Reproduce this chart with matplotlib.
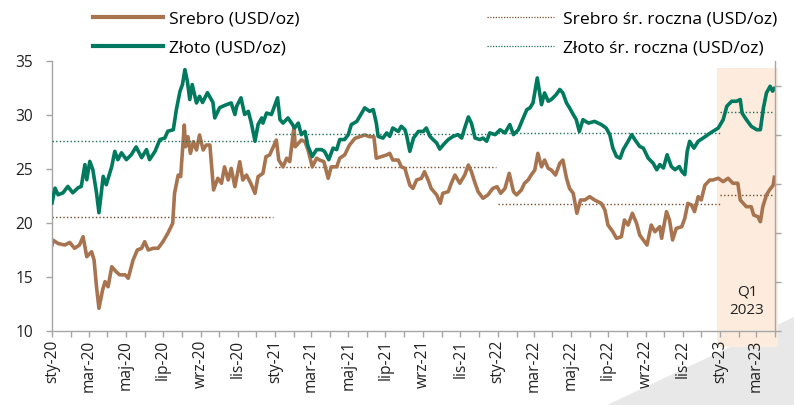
import matplotlib
matplotlib.use("Agg")
import matplotlib.pyplot as plt
import matplotlib.dates as mdates
from matplotlib.patches import Rectangle, Polygon
from matplotlib.lines import Line2D
import pandas as pd

plt.rcParams['font.family'] = ['Open Sans', 'DejaVu Sans']

# --- data ---
gold_dates = [
    "2020-01-01", "2020-01-06", "2020-01-11", "2020-01-19", "2020-01-27", "2020-02-04", "2020-02-13", "2020-02-18",
    "2020-02-24", "2020-02-27", "2020-03-03", "2020-03-08", "2020-03-14", "2020-03-18", "2020-03-25", "2020-03-30",
    "2020-04-08", "2020-04-13", "2020-04-18", "2020-04-24", "2020-05-02", "2020-05-10", "2020-05-18", "2020-05-27",
    "2020-06-04", "2020-06-09", "2020-06-18", "2020-06-26", "2020-07-04", "2020-07-09", "2020-07-18", "2020-07-23",
    "2020-07-29", "2020-08-02", "2020-08-06", "2020-08-10", "2020-08-14", "2020-08-18", "2020-08-25", "2020-08-30",
    "2020-09-04", "2020-09-12", "2020-09-21", "2020-09-24", "2020-10-02", "2020-10-13", "2020-10-21", "2020-10-27",
    "2020-10-30", "2020-11-06", "2020-11-12", "2020-11-18", "2020-11-23", "2020-11-29", "2020-12-04", "2020-12-10",
    "2020-12-12", "2020-12-18", "2020-12-26", "2020-12-31",
    "2021-01-05", "2021-01-09", "2021-01-14", "2021-01-22", "2021-01-28", "2021-02-02", "2021-02-08", "2021-02-13",
    "2021-02-19", "2021-02-24", "2021-03-03", "2021-03-10", "2021-03-18", "2021-03-23", "2021-03-30", "2021-04-06",
    "2021-04-12", "2021-04-17", "2021-04-25", "2021-05-01", "2021-05-06", "2021-05-15", "2021-05-23", "2021-05-28",
    "2021-06-05", "2021-06-11", "2021-06-16", "2021-06-19", "2021-06-27", "2021-07-03", "2021-07-08", "2021-07-13",
    "2021-07-22", "2021-07-27", "2021-08-02", "2021-08-05", "2021-08-10", "2021-08-16", "2021-08-24", "2021-09-01",
    "2021-09-06", "2021-09-12", "2021-09-17", "2021-09-23", "2021-09-28", "2021-10-04", "2021-10-12", "2021-10-20",
    "2021-10-28", "2021-11-03", "2021-11-08", "2021-11-14", "2021-11-19", "2021-11-25", "2021-12-03", "2021-12-08",
    "2021-12-14", "2021-12-19", "2021-12-28",
    "2022-01-05", "2022-01-13", "2022-01-21", "2022-01-27", "2022-02-04", "2022-02-12", "2022-02-18", "2022-02-23",
    "2022-02-28", "2022-03-07", "2022-03-14", "2022-03-19", "2022-03-25", "2022-03-30", "2022-04-07", "2022-04-13",
    "2022-04-18", "2022-04-24", "2022-04-29", "2022-05-05", "2022-05-10", "2022-05-15", "2022-05-21", "2022-05-30",
    "2022-06-09", "2022-06-20", "2022-06-28", "2022-07-04", "2022-07-09", "2022-07-15", "2022-07-21", "2022-07-26",
    "2022-08-03", "2022-08-09", "2022-08-14", "2022-08-22", "2022-08-28", "2022-09-05", "2022-09-13", "2022-09-19",
    "2022-09-24", "2022-09-30", "2022-10-06", "2022-10-13", "2022-10-19", "2022-10-26", "2022-10-30", "2022-11-04",
    "2022-11-08", "2022-11-12", "2022-11-19", "2022-11-26", "2022-12-04", "2022-12-12", "2022-12-20", "2022-12-29",
    "2023-01-06", "2023-01-12", "2023-01-20", "2023-01-28", "2023-02-03", "2023-02-06", "2023-02-13", "2023-02-21",
    "2023-03-02", "2023-03-08", "2023-03-13", "2023-03-18", "2023-03-24", "2023-03-28", "2023-03-31",
]
gold_usd = [
    1522, 1582, 1555, 1563, 1589, 1563, 1584, 1589, 1678, 1616, 1691, 1657, 1563, 1482, 1630, 1596,
    1670, 1732, 1698, 1726, 1698, 1718, 1750, 1706, 1739, 1698, 1732, 1780, 1786, 1814, 1820, 1902,
    1977, 2004, 2065, 2018, 1943, 2004, 1929, 1956, 1931, 1971, 1931, 1868, 1910, 1922, 1929, 1882,
    1916, 1950, 1882, 1895, 1847, 1773, 1841, 1868, 1847, 1888, 1882, 1916,
    1950, 1861, 1847, 1868, 1847, 1827, 1847, 1800, 1813, 1752, 1711, 1739, 1739, 1732, 1698, 1745,
    1739, 1780, 1780, 1800, 1841, 1854, 1888, 1909, 1895, 1902, 1847, 1793, 1786, 1807, 1793, 1827,
    1813, 1834, 1820, 1793, 1732, 1786, 1813, 1813, 1827, 1793, 1780, 1766, 1741, 1759, 1780, 1793,
    1800, 1786, 1827, 1872, 1847, 1786, 1780, 1786, 1773, 1807, 1800,
    1820, 1807, 1841, 1800, 1820, 1868, 1902, 1909, 1929, 2031, 1922, 1970, 1936, 1943, 1963, 1984,
    1970, 1929, 1909, 1882, 1861, 1813, 1861, 1847, 1854, 1841, 1827, 1800, 1745, 1711, 1704, 1739,
    1773, 1800, 1780, 1752, 1745, 1704, 1684, 1657, 1678, 1664, 1718, 1670, 1657, 1670, 1650, 1637,
    1732, 1773, 1745, 1773, 1786, 1800, 1813, 1827,
    1861, 1916, 1936, 1936, 1943, 1888, 1861, 1834, 1820, 1820, 1909, 1970, 1997, 1977, 1988,
]

silver_dates = [
    "2020-01-01", "2020-01-03", "2020-01-11", "2020-01-22", "2020-01-30", "2020-02-07", "2020-02-15", "2020-02-21",
    "2020-02-27", "2020-03-06", "2020-03-10", "2020-03-14", "2020-03-18", "2020-03-24", "2020-03-28", "2020-04-02",
    "2020-04-08", "2020-04-15", "2020-04-21", "2020-04-30", "2020-05-05", "2020-05-13", "2020-05-20", "2020-05-27",
    "2020-06-01", "2020-06-07", "2020-06-15", "2020-06-23", "2020-07-01", "2020-07-09", "2020-07-17", "2020-07-20",
    "2020-07-26", "2020-07-30", "2020-08-05", "2020-08-07", "2020-08-11", "2020-08-15", "2020-08-20", "2020-08-25",
    "2020-08-30", "2020-09-05", "2020-09-10", "2020-09-16", "2020-09-22", "2020-09-29", "2020-10-05", "2020-10-10",
    "2020-10-16", "2020-10-21", "2020-10-27", "2020-11-04", "2020-11-09", "2020-11-15", "2020-11-22", "2020-11-29",
    "2020-12-04", "2020-12-12", "2020-12-17", "2020-12-23", "2020-12-29",
    "2021-01-03", "2021-01-07", "2021-01-14", "2021-01-20", "2021-01-25", "2021-02-01", "2021-02-03", "2021-02-08",
    "2021-02-13", "2021-02-19", "2021-02-24", "2021-03-03", "2021-03-10", "2021-03-15", "2021-03-22", "2021-03-29",
    "2021-04-03", "2021-04-12", "2021-04-17", "2021-04-25", "2021-05-03", "2021-05-12", "2021-05-20", "2021-05-28",
    "2021-06-05", "2021-06-12", "2021-06-16", "2021-06-24", "2021-07-03", "2021-07-08", "2021-07-13", "2021-07-22",
    "2021-07-27", "2021-08-02", "2021-08-05", "2021-08-10", "2021-08-15", "2021-08-21", "2021-08-29", "2021-09-03",
    "2021-09-09", "2021-09-14", "2021-09-23", "2021-09-29", "2021-10-03", "2021-10-12", "2021-10-17", "2021-10-23",
    "2021-10-31", "2021-11-08", "2021-11-14", "2021-11-19", "2021-11-25", "2021-11-30", "2021-12-08", "2021-12-16",
    "2021-12-24", "2021-12-31",
    "2022-01-06", "2022-01-13", "2022-01-20", "2022-01-27", "2022-02-01", "2022-02-09", "2022-02-14", "2022-02-20",
    "2022-02-25", "2022-03-03", "2022-03-08", "2022-03-14", "2022-03-19", "2022-03-25", "2022-03-30", "2022-04-06",
    "2022-04-13", "2022-04-18", "2022-04-24", "2022-04-29", "2022-05-05", "2022-05-11", "2022-05-17", "2022-05-24",
    "2022-06-01", "2022-06-09", "2022-06-20", "2022-06-26", "2022-07-01", "2022-07-09", "2022-07-15", "2022-07-23",
    "2022-07-28", "2022-08-03", "2022-08-10", "2022-08-17", "2022-08-22", "2022-08-30", "2022-09-03", "2022-09-10",
    "2022-09-16", "2022-09-24", "2022-09-27", "2022-10-05", "2022-10-10", "2022-10-15", "2022-10-21", "2022-10-30",
    "2022-11-04", "2022-11-09", "2022-11-15", "2022-11-20", "2022-11-26", "2022-12-01", "2022-12-07", "2022-12-15",
    "2022-12-20", "2022-12-29",
    "2023-01-06", "2023-01-14", "2023-01-22", "2023-01-30", "2023-02-03", "2023-02-13", "2023-02-21", "2023-02-25",
    "2023-03-04", "2023-03-08", "2023-03-12", "2023-03-18", "2023-03-23", "2023-03-29", "2023-03-31",
]
silver_usd = [
    17.96, 18.40, 18.10, 17.96, 18.20, 17.66, 17.96, 18.73, 16.88, 17.34, 16.57, 14.10, 12.10, 13.80, 14.57, 14.10,
    15.95, 15.50, 15.20, 15.20, 14.88, 16.57, 17.50, 17.66, 18.27, 17.50, 17.66, 17.66, 18.27, 19.05, 19.97, 22.75,
    24.44, 24.29, 29.07, 27.06, 27.99, 26.45, 27.53, 26.76, 28.15, 26.76, 27.22, 27.22, 23.06, 24.14, 23.68, 25.20,
    23.98, 25.06, 23.36, 25.68, 23.98, 24.44, 23.68, 22.75, 24.29, 24.60, 26.14, 26.30, 27.06,
    27.68, 25.83, 25.20, 26.00, 25.68, 28.92, 27.06, 27.37, 27.68, 27.53, 26.76, 25.20, 26.00, 25.83, 25.68, 24.14,
    25.20, 25.20, 26.00, 26.30, 27.22, 27.84, 27.99, 28.15, 27.99, 27.99, 26.00, 26.14, 26.30, 26.45, 25.83, 25.83,
    25.20, 25.06, 24.44, 23.50, 23.20, 23.98, 24.14, 24.75, 23.98, 23.20, 22.60, 21.82, 22.75, 22.90, 23.68, 24.44,
    23.68, 24.44, 25.37, 24.75, 23.68, 22.90, 22.29, 22.60, 23.20, 23.36,
    22.75, 23.20, 24.60, 22.90, 22.60, 23.06, 23.68, 23.98, 24.44, 24.91, 26.45, 25.20, 25.83, 25.06, 24.91, 24.44,
    25.53, 25.83, 24.14, 23.20, 22.75, 20.90, 22.13, 22.13, 22.44, 22.13, 21.82, 21.20, 19.81, 19.19, 18.58, 18.73,
    20.28, 19.81, 20.90, 19.97, 18.89, 18.27, 17.96, 19.81, 19.19, 19.66, 18.58, 21.05, 20.28, 18.43, 19.50, 19.66,
    20.43, 21.82, 21.67, 21.05, 22.44, 22.13, 23.50, 23.98, 23.98, 24.14,
    23.83, 24.14, 23.68, 23.68, 22.13, 21.51, 21.51, 20.74, 20.58, 20.12, 21.51, 22.60, 23.06, 23.50, 24.23,
]

# yearly averages (2023 = Q1)
avg_start = ["2020-01-01", "2021-01-01", "2022-01-01", "2023-01-01"]
avg_end = ["2020-12-29", "2021-12-29", "2022-12-31", "2023-03-31"]
silver_avg = [20.55, 25.20, 21.80, 22.60]
gold_avg = [1775, 1804, 1807, 1893]

pl_months = {1: "sty", 3: "mar", 5: "maj", 7: "lip", 9: "wrz", 11: "lis"}

c_silver = "#A8744F"
c_gold = "#007A5E"
c_silver_avg = "#7A4A2C"
c_gold_avg = "#1E6E55"
c_axis = "#A6A6A6"

fig = plt.figure(figsize=(7.94, 4.05), dpi=100)
ax = fig.add_axes([52 / 794, 74 / 405, 723 / 794, 270 / 405])
ax2 = ax.twinx()

# grey corner decoration
fig.patches.append(Polygon([[607 / 794, 0], [1, 0], [1, 88 / 405]], closed=True,
                           transform=fig.transFigure, facecolor="#E8E8E8", edgecolor="none", zorder=-5))

sd = pd.to_datetime(silver_dates)
gd = pd.to_datetime(gold_dates)

# Q1 2023 shading
x0 = mdates.date2num(pd.Timestamp("2022-12-27"))
x1 = mdates.date2num(pd.Timestamp("2023-04-06"))
ax.add_patch(Rectangle((x0, 8.5), x1 - x0, 34.35 - 8.5, facecolor="#FDECDD", edgecolor="none",
                       clip_on=False, zorder=0.2))
ax.text(pd.Timestamp("2023-02-14"), 12.75, "Q1\n2023", ha="center", va="center", fontsize=11,
        color="#222222", linespacing=1.25, zorder=3)

for s, e, v in zip(avg_start, avg_end, silver_avg):
    ax.plot(pd.to_datetime([s, e]), [v, v], color=c_silver_avg, lw=1.0, ls=(0, (1, 1.6)), zorder=1)
for s, e, v in zip(avg_start, avg_end, gold_avg):
    ax2.plot(pd.to_datetime([s, e]), [v, v], color=c_gold_avg, lw=1.0, ls=(0, (1, 1.6)), zorder=1)

ax.plot(sd, silver_usd, color=c_silver, lw=2.6, solid_joinstyle="round", zorder=2)
ax2.plot(gd, gold_usd, color=c_gold, lw=2.6, solid_joinstyle="round", zorder=2)

ax.set_xlim(pd.Timestamp("2020-01-01"), pd.Timestamp("2023-04-01"))
ax.set_ylim(10, 35)
ax.set_yticks([10, 15, 20, 25, 30, 35])
ax2.set_ylim(1000, 2100)
ax2.set_yticks([1000, 1200, 1400, 1600, 1800, 2000])
ax2.set_yticklabels([])

ax.xaxis.set_major_locator(mdates.MonthLocator(bymonth=[1, 3, 5, 7, 9, 11]))
ax.xaxis.set_minor_locator(mdates.MonthLocator())
ax.xaxis.set_major_formatter(plt.FuncFormatter(
    lambda x, pos: "%s-%02d" % (pl_months[mdates.num2date(x).month], mdates.num2date(x).year % 100)))
for lab in ax.get_xticklabels():
    lab.set_rotation(90)

for a in (ax, ax2):
    a.spines["top"].set_visible(False)
    for side in ("left", "bottom", "right"):
        a.spines[side].set_color(c_axis)
        a.spines[side].set_linewidth(1.0)
ax.spines["right"].set_visible(False)
ax2.spines["left"].set_visible(False)
ax2.spines["bottom"].set_visible(False)

ax.tick_params(axis="both", which="both", direction="out", color=c_axis, length=4.5, width=1.0,
               labelsize=11.2, labelcolor="#222222")
ax.tick_params(axis="x", which="major", pad=2)
ax.tick_params(axis="y", pad=9)
ax2.tick_params(axis="y", direction="out", color=c_axis, length=4, width=1.0)

# legends
h1 = [Line2D([], [], color=c_silver, lw=3), Line2D([], [], color=c_gold, lw=3)]
fig.legend(h1, ["Srebro (USD/oz)", "Złoto (USD/oz)"], loc="upper left",
           bbox_to_anchor=(86 / 794, 1 - 4 / 405), frameon=False, fontsize=12.6,
           handlelength=4.0, handletextpad=0.35, labelspacing=0.72, borderaxespad=0)
h2 = [Line2D([], [], color=c_silver_avg, lw=0.9, ls=(0, (1, 1.2))),
      Line2D([], [], color=c_gold_avg, lw=0.9, ls=(0, (1, 1.2)))]
fig.legend(h2, ["Srebro śr. roczna (USD/oz)", "Złoto śr. roczna (USD/oz)"], loc="upper left",
           bbox_to_anchor=(480 / 794, 1 - 4 / 405), frameon=False, fontsize=12.6,
           handlelength=3.8, handletextpad=0.57, labelspacing=0.72, borderaxespad=0)

fig.savefig("out.png", dpi=100)
